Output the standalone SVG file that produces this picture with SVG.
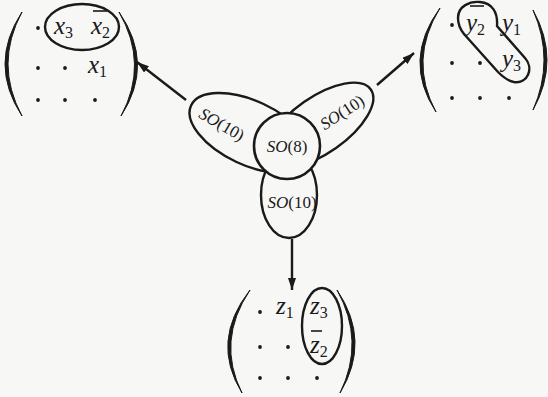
<svg xmlns="http://www.w3.org/2000/svg" width="548" height="397" viewBox="0 0 548 397">
<defs>
<style>
.ln{fill:none;stroke:#1a1a1a;stroke-width:2.4}
.par{fill:#1a1a1a;stroke:#1a1a1a;stroke-width:1}
.dot{fill:#1a1a1a}
.m{font-family:"Liberation Serif",serif;font-size:25px;font-style:italic;fill:#1a1a1a}
.s{font-size:16px;font-style:normal}
.lab{font-family:"Liberation Serif",serif;font-size:17px;fill:#1a1a1a}
.it{font-style:italic}
.bar{stroke:#1a1a1a;stroke-width:1.6}
</style>
<marker id="ah" viewBox="0 0 12 8" refX="12" refY="4" markerWidth="12" markerHeight="8" markerUnits="userSpaceOnUse" orient="auto">
<path d="M0,0 L12,4 L0,8 Z" fill="#1a1a1a"/>
</marker>
</defs>
<rect width="548" height="397" fill="#f7f7f6"/>

<g id="connectors">
<line class="ln" x1="186" y1="100" x2="137" y2="62" stroke-width="1.7" marker-end="url(#ah)"/>
<line class="ln" x1="377" y1="85" x2="414" y2="53" stroke-width="1.7" marker-end="url(#ah)"/>
<line class="ln" x1="292" y1="239" x2="292" y2="290" stroke-width="1.7" marker-end="url(#ah)"/>
</g>

<g id="center">
<ellipse class="ln" cx="250" cy="133" rx="65" ry="32" transform="rotate(25 250 133)"/>
<ellipse class="ln" cx="320" cy="125" rx="62" ry="28" transform="rotate(-35 320 125)"/>
<ellipse class="ln" cx="289" cy="195" rx="28" ry="43"/>
<circle cx="287" cy="146" r="33" fill="#f7f7f6" stroke="#1a1a1a" stroke-width="2.6"/>
<text class="lab" x="287" y="152" text-anchor="middle"><tspan class="it">SO</tspan>(8)</text>
<text class="lab" x="222" y="130" text-anchor="middle" transform="rotate(30 222 124)"><tspan class="it">SO</tspan>(10)</text>
<text class="lab" x="342" y="118" text-anchor="middle" transform="rotate(-33 342 112)"><tspan class="it">SO</tspan>(10)</text>
<text class="lab" x="292" y="208" text-anchor="middle"><tspan class="it">SO</tspan>(10)</text>
</g>

<g id="matrix-x">
<path class="par" d="M22,12 Q-12,64 22,116 Q-6,64 22,12 Z"/>
<path class="par" d="M119,12 Q155,64 121,116 Q149,64 119,12 Z"/>
<circle class="dot" cx="38" cy="28" r="1.9"/>
<circle class="dot" cx="38" cy="68" r="1.9"/>
<circle class="dot" cx="65" cy="68" r="1.9"/>
<circle class="dot" cx="38" cy="100" r="1.9"/>
<circle class="dot" cx="65" cy="100" r="1.9"/>
<circle class="dot" cx="95" cy="100" r="1.9"/>
<text class="m" x="54" y="34">x<tspan class="s" dy="4">3</tspan></text>
<text class="m" x="91" y="34">x<tspan class="s" dy="4">2</tspan></text>
<line class="bar" x1="93" y1="11" x2="107" y2="11"/>
<text class="m" x="88" y="73">x<tspan class="s" dy="4">1</tspan></text>
<ellipse class="ln" cx="82" cy="27" rx="37" ry="23" stroke-width="2"/>
</g>

<g id="matrix-y">
<path class="par" d="M440,8 Q402,60 436,112 Q408,60 440,8 Z"/>
<path class="par" d="M533,10 Q561,60 533,110 Q555,60 533,10 Z"/>
<circle class="dot" cx="452" cy="25" r="1.9"/>
<circle class="dot" cx="452" cy="63" r="1.9"/>
<circle class="dot" cx="480" cy="63" r="1.9"/>
<circle class="dot" cx="452" cy="98" r="1.9"/>
<circle class="dot" cx="480" cy="98" r="1.9"/>
<circle class="dot" cx="509" cy="98" r="1.9"/>
<text class="m" x="466" y="31">y<tspan class="s" dy="4">2</tspan></text>
<line class="bar" x1="470" y1="6" x2="484" y2="6"/>
<text class="m" x="502" y="31">y<tspan class="s" dy="4">1</tspan></text>
<text class="m" x="502" y="67">y<tspan class="s" dy="4">3</tspan></text>
<path class="ln" stroke-width="2" d="M458,18 C458,6 470,1 480,2 C492,3 498,12 497,26 L525,58 C534,68 528,84 514,82 C508,81 503,77 498,72 L464,34 C460,29 458,24 458,18 Z"/>
</g>

<g id="matrix-z">
<path class="par" d="M250,290 Q210,341 242,393 Q216,341 250,290 Z"/>
<path class="par" d="M337,290 Q371.5,341 340,393 Q365.5,341 337,290 Z"/>
<circle class="dot" cx="260" cy="312" r="1.9"/>
<circle class="dot" cx="260" cy="347" r="1.9"/>
<circle class="dot" cx="288" cy="347" r="1.9"/>
<circle class="dot" cx="260" cy="378" r="1.9"/>
<circle class="dot" cx="288" cy="378" r="1.9"/>
<circle class="dot" cx="317" cy="378" r="1.9"/>
<text class="m" x="276" y="314">z<tspan class="s" dy="4">1</tspan></text>
<text class="m" x="310" y="314">z<tspan class="s" dy="4">3</tspan></text>
<text class="m" x="310" y="353">z<tspan class="s" dy="4">2</tspan></text>
<line class="bar" x1="311" y1="331" x2="322" y2="331"/>
<ellipse class="ln" cx="322" cy="326" rx="20" ry="38" stroke-width="2"/>
</g>
</svg>
